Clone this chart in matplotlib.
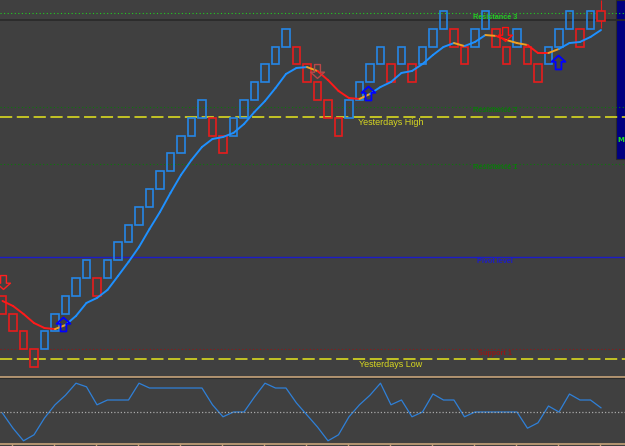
import numpy as np
import matplotlib
matplotlib.use("Agg")
import matplotlib.pyplot as plt
from matplotlib.patches import Rectangle
from matplotlib.path import Path

BG = "#404040"
TAN = "#c8a47a"
UP_CLR = "#2586e6"
DN_CLR = "#e81c1c"

# renko bricks: bottom level of each brick and its direction (U = up, D = down)
brick_level = [3, 2, 1, 0, 1, 2, 3, 4, 5, 4, 5, 6, 7, 8, 9, 10, 11, 12, 13, 14,
               13, 12, 13, 14, 15, 16, 17, 18, 17, 16, 15, 14, 13, 14, 15, 16, 17, 16,
               17, 16, 17, 18, 19, 18, 17, 18, 19, 18, 17, 18, 17, 16, 17, 18, 19, 18, 19]
brick_dir = "DDDDUUUUUDUUUUUUUUUUDDUUUUUUDDDDDUUUUDUDUUUDDUUDDUDDUUUDU"

# brick still forming on the right edge
live_open, live_close = 20.0, 19.44
live_low, live_high = 19.04, 20.62

# moving average, one value per column, and colour of each segment
ma_vals = [3.71, 3.43, 2.98, 2.47, 2.19, 2.13, 2.36, 2.87, 3.60, 3.88,
           4.33, 5.11, 5.90, 6.74, 7.75, 8.71, 9.78, 10.79, 11.63, 12.36,
           12.81, 12.92, 13.15, 13.65, 14.33, 14.94, 15.67, 16.46, 16.80, 16.85,
           16.63, 16.12, 15.51, 15.11, 15.06, 15.34, 15.73, 16.01, 16.52, 16.63,
           17.02, 17.53, 17.98, 18.20, 18.03, 18.26, 18.65, 18.60, 18.37, 18.20,
           18.09, 17.64, 17.64, 17.87, 18.20, 18.26, 18.54, 18.93]
ma_trend = "RRRRRO" + "B" * 23 + "O" + "RRRR" + "O" + "B" * 8 + "O" + "BB" + "O" + "R" + "OO" + "RR" + "O" + "BBBB"

# signal arrows (column, level, direction, colour)
arrow_col = [0.05, 5.8, 30.0, 34.8, 47.86, 52.9]
arrow_lvl = [4.78, 2.39, 16.63, 15.42, 18.71, 17.16]
arrow_dir = ["dn", "up", "dn", "up", "dn", "up"]
arrow_clr = ["#ff2020", "#0000ff", "#b84848", "#0000ff", "#ff1010", "#0000ff"]

# daily levels
level_names = ["Resistance 3", "Resistance 2", "Yesterdays High", "Resistance 1",
               "Pivot level", "Support 1", "Yesterdays Low"]
level_vals = [19.89, 14.63, 14.07, 11.43, 6.18, 1.01, 0.45]
sep_level = 19.52

# oscillator in the lower window
osc_vals = [48, 23, 2, 12, 40, 62, 78, 98, 92, 62,
            70, 70, 70, 98, 90, 90, 90, 90, 90, 90,
            62, 42, 50, 50, 75, 98, 90, 90, 65, 45,
            25, 2, 12, 42, 62, 78, 98, 62, 70, 42,
            50, 80, 70, 70, 42, 50, 50, 50, 50, 50,
            23, 32, 60, 50, 80, 70, 70, 57]


def arrow_marker(direction):
    v = [(-1, 0.1), (0, 1), (1, 0.1), (0.42, 0.1), (0.42, -1), (-0.42, -1), (-0.42, 0.1), (-1, 0.1)]
    if direction == "dn":
        v = [(x, -y) for x, y in v]
    codes = [Path.MOVETO] + [Path.LINETO] * 6 + [Path.CLOSEPOLY]
    return Path(v, codes)


fig = plt.figure(figsize=(6.25, 4.46), dpi=100, facecolor=BG)
ax = fig.add_axes([0, 69 / 446, 1, 377 / 446])
ax2 = fig.add_axes([0, 2 / 446, 1, 66 / 446])

xlim = (-0.238, 59.29)
for a in (ax, ax2):
    a.set_facecolor(BG)
    a.set_xlim(*xlim)
    for s in a.spines.values():
        s.set_visible(False)
    a.set_yticks([])

ax.set_ylim(-0.562, 20.618)
ax.set_xticks([])

# navy info panel at the top right
ax.add_patch(Rectangle((616 / 625, 1 - 159 / 377), 9 / 625, 159 / 377, transform=ax.transAxes,
                       facecolor="#000080", edgecolor="#2a2a2a", lw=0.8, zorder=0.5))
ax.text(617 / 625, 1 - 140 / 377, "M", transform=ax.transAxes, color="#22dd22",
        fontsize=5, fontweight="bold", ha="left", va="center", zorder=0.6)

# horizontal levels
ax.axhline(sep_level, color="#2a2a2a", lw=1.3, zorder=1)
styles = {
    "Resistance 3": ("#22cc22", (0, (1, 2.2)), 0.8),
    "Resistance 2": ("#0b7a0b", (0, (1, 2.2)), 0.8),
    "Resistance 1": ("#0b7a0b", (0, (1, 2.2)), 0.8),
    "Yesterdays High": ("#e6e61e", (0, (8, 3)), 1.1),
    "Yesterdays Low": ("#e6e61e", (0, (8, 3)), 1.1),
    "Pivot level": ("#1c1cc8", "-", 1.0),
    "Support 1": ("#901818", (0, (1, 2.2)), 0.8),
}
for name, val in zip(level_names, level_vals):
    clr, ls, lw = styles[name]
    ax.axhline(val, color=clr, ls=ls, lw=lw, zorder=1)
    if name.startswith("Yesterdays"):
        ax.annotate(name, (37.0, val), xytext=(0, -4.2), textcoords="offset points",
                    ha="center", va="center", color="#d8d820", fontsize=6.5,
                    family="Liberation Sans", zorder=3)
    else:
        ax.annotate(name, (46.9, val), xytext=(0, -3.1), textcoords="offset points",
                    ha="center", va="center", color=clr, fontsize=5.2, fontweight="bold",
                    family="Liberation Sans", zorder=3)

# renko bricks
for i, (lvl, d) in enumerate(zip(brick_level, brick_dir)):
    clr = UP_CLR if d == "U" else DN_CLR
    ax.add_patch(Rectangle((i - 0.35, lvl), 0.7, 1, fill=False, edgecolor=clr, lw=1.2, zorder=2))

n = len(brick_level)
ax.vlines(n, live_low, live_high, color=DN_CLR, lw=0.8, zorder=2)
ax.add_patch(Rectangle((n - 0.35, live_close), 0.7, live_open - live_close,
                       facecolor=BG, edgecolor=DN_CLR, lw=1.2, zorder=2.1))

# moving average coloured by trend
trend_clr = {"R": "#ff1a1a", "B": "#1e90ff", "O": "#f0a020"}
cols = np.arange(len(ma_vals))
for i, t in enumerate(ma_trend):
    ax.plot(cols[i:i + 2], ma_vals[i:i + 2], color=trend_clr[t], lw=1.4,
            solid_capstyle="round", zorder=3)

# signal arrows
for c, l, d, clr in zip(arrow_col, arrow_lvl, arrow_dir, arrow_clr):
    ax.plot([c], [l], marker=arrow_marker(d), markersize=10, markerfacecolor="none",
            markeredgecolor=clr, markeredgewidth=1.3 if clr == "#0000ff" else 1.0, zorder=4)

# separator between windows
ax.spines["bottom"].set_visible(True)
ax.spines["bottom"].set_color(TAN)
ax.spines["bottom"].set_linewidth(1.2)

# lower window oscillator
ax2.set_ylim(-3.33, 106.67)
ax2.plot(cols, osc_vals, color="#2f80d8", lw=0.9, zorder=2)
ax2.axhline(50, color="#a8a8a8", ls=(0, (1, 1.6)), lw=0.9, zorder=3)
ax2.spines["bottom"].set_visible(True)
ax2.spines["bottom"].set_color(TAN)
ax2.spines["bottom"].set_linewidth(1.2)
ax2.spines["top"].set_visible(True)
ax2.spines["top"].set_color("#2c2c2c")
ax2.spines["top"].set_linewidth(0.8)
ax2.set_xticks(0.905 + 4 * np.arange(15))
ax2.tick_params(axis="x", direction="out", length=2, width=1, color=TAN, labelbottom=False)

fig.savefig("out.png", dpi=100, facecolor=BG)
